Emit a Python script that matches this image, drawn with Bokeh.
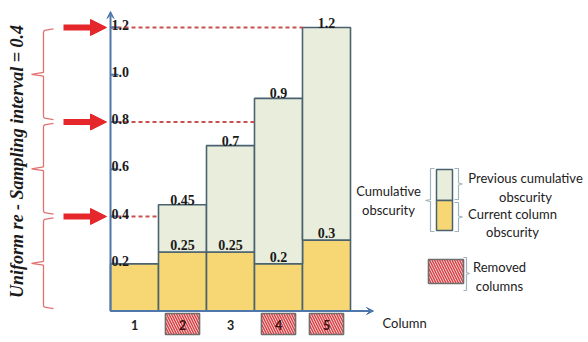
import math
from bokeh.plotting import figure
from bokeh.models import ColumnDataSource, Range1d, Arrow, NormalHead, VeeHead
from bokeh.core.properties import value
from bokeh.embed import file_html
from bokeh.resources import INLINE

# ---------------- data ----------------
columns = [1, 2, 3, 4, 5]
current_obscurity = [0.2, 0.25, 0.25, 0.2, 0.3]
cumulative_obscurity = [0.2, 0.45, 0.7, 0.9, 1.2]
removed_columns = [2, 4, 5]
y_ticks = [0.2, 0.4, 0.6, 0.8, 1.0, 1.2]
sampling_interval = 0.4
sample_levels = [0.4, 0.8, 1.2]
y_title = "Uniform re - Sampling interval = 0.4"
x_title = "Column"

# ---------------- layout helpers (pixel -> data) ----------------
X0_PX, COL_PX = 110.0, 48.0
Y0_PX, UNIT_PX = 310.5, 236.25


def px2x(px):
    return (px - X0_PX) / COL_PX


def px2y(py):
    return (Y0_PX - py) / UNIT_PX


W, H = 588, 342
p = figure(width=W, height=H, output_backend="svg", toolbar_location=None,
           x_range=Range1d(px2x(0), px2x(W)), y_range=Range1d(px2y(H), px2y(0)),
           x_axis_location=None, y_axis_location=None, min_border=0,
           outline_line_color=None, background_fill_color="white", border_fill_color="white")
p.xgrid.grid_line_color = None
p.ygrid.grid_line_color = None

YELLOW = "#F6D774"
GREEN = "#E9EDDC"
EDGE = "#4A6270"
AXIS = "#5077AC"
RED = "#E5262B"
DASH_RED = "#C8504E"
BRACE = "#E27272"
LEG_BR = "#9FB3BD"
HATCH_FILL = "#FDF0F0"
HATCH_RED = "#D9464A"
SERIF = value("Liberation Serif")
SANS = value("Lato")

# ---------------- bars ----------------
src = ColumnDataSource(dict(
    left=[c - 1 for c in columns], right=list(columns),
    cur=current_obscurity, cum=cumulative_obscurity,
    zero=[0] * len(columns)))
p.quad(left="left", right="right", bottom="zero", top="cur", source=src,
       fill_color=YELLOW, line_color=EDGE, line_width=1.6)
p.quad(left="left", right="right", bottom="cur", top="cum", source=src,
       fill_color=GREEN, line_color=EDGE, line_width=1.6)

# value labels
cx, cy, ct = [], [], []
ux, uy, ut = [], [], []
for c, cur, cum in zip(columns, current_obscurity, cumulative_obscurity):
    if cum > cur:
        cx.append(c - 0.5); cy.append(cum); ct.append(f"{cum:g}")
        ux.append(c - 0.5); uy.append(cur); ut.append(f"{cur:g}")
p.text(x=cx, y=cy, text=ct, text_font=SERIF, text_font_style="bold", text_font_size="14px",
       text_align="center", text_baseline="alphabetic", y_offset=-5, text_color="#1a1a1a")
p.text(x=ux, y=uy, text=ut, text_font=SERIF, text_font_style="bold", text_font_size="14px",
       text_align="center", text_baseline="alphabetic", y_offset=-7, text_color="#1a1a1a")

# ---------------- dashed sampling lines ----------------
for lvl in sample_levels:
    first = next(c for c, cum in zip(columns, cumulative_obscurity) if cum >= lvl - 1e-9)
    p.line([0, first - 1], [lvl, lvl], line_color=DASH_RED, line_width=1.8, line_dash="4 3")

# ---------------- axes ----------------
p.add_layout(Arrow(end=VeeHead(size=7, fill_color=AXIS, line_color=AXIS),
                   x_start=0, y_start=0, x_end=0, y_end=px2y(11),
                   line_color=AXIS, line_width=2))
p.add_layout(Arrow(end=VeeHead(size=7, fill_color=AXIS, line_color=AXIS),
                   x_start=0, y_start=0, x_end=px2x(373), y_end=0,
                   line_color=AXIS, line_width=2))
p.segment(x0=[0] * len(y_ticks), y0=y_ticks, x1=[px2x(118)] * len(y_ticks), y1=y_ticks,
          line_color=AXIS, line_width=2)
p.text(x=[px2x(111)] * len(y_ticks), y=y_ticks, text=[f"{t:.1f}" for t in y_ticks],
       text_font=SERIF, text_font_style="bold", text_font_size="14px",
       text_align="left", text_baseline="alphabetic", y_offset=-3, text_color="#1a1a1a")

# red arrows
for lvl in sample_levels:
    p.add_layout(Arrow(end=NormalHead(size=16, fill_color=RED, line_color=RED),
                       x_start=px2x(63), y_start=lvl, x_end=px2x(106), y_end=lvl,
                       line_color=RED, line_width=6))

# braces for each sampling interval
for hi in sample_levels:
    lo = hi - sampling_interval
    top, bot = hi - 0.006, lo + 0.01
    mid = (top + bot) / 2
    xs = [px2x(53), px2x(44), px2x(43), px2x(43), px2x(31), px2x(43), px2x(43), px2x(44), px2x(53)]
    ys = [top, top - 0.006, top - 0.012, mid + 0.008, mid, mid - 0.008, bot + 0.012, bot + 0.006, bot]
    p.line(xs, ys, line_color=BRACE, line_width=1.3)

p.text(x=[px2x(16)], y=[px2y(161)], text=[y_title], angle=math.pi / 2,
       text_font=SERIF, text_font_style="bold italic", text_font_size="18px",
       text_align="center", text_baseline="middle", text_color="#1a1a1a")

# ---------------- x labels ----------------
kept = [c for c in columns if c not in removed_columns]
p.text(x=[c - 0.5 for c in kept], y=[px2y(324)] * len(kept), text=[str(c) for c in kept],
       text_font=SANS, text_font_style="bold", text_font_size="12.5px",
       text_align="center", text_baseline="middle", text_color="#222222")
hw = 0.355
p.quad(left=[c - 0.5 - hw for c in removed_columns], right=[c - 0.5 + hw for c in removed_columns],
       top=[px2y(313)] * len(removed_columns), bottom=[px2y(334)] * len(removed_columns),
       fill_color=HATCH_FILL, hatch_pattern="left_diagonal_line", hatch_color=HATCH_RED,
       hatch_scale=5, hatch_weight=1.6, line_color="#6E6E6E", line_width=1.6)
p.text(x=[c - 0.5 for c in removed_columns], y=[px2y(324)] * len(removed_columns),
       text=[str(c) for c in removed_columns],
       text_font=SANS, text_font_style="bold", text_font_size="12.5px",
       text_align="center", text_baseline="middle", text_color="#3a1010")
p.text(x=[px2x(382)], y=[px2y(322)], text=[x_title], text_font=SANS, text_font_size="13px",
       text_align="left", text_baseline="middle", text_color="#222222")

# ---------------- legend ----------------
p.quad(left=[px2x(436)], right=[px2x(452)], bottom=[px2y(200)], top=[px2y(169)],
       fill_color=GREEN, line_color=EDGE, line_width=1.5)
p.quad(left=[px2x(436)], right=[px2x(452)], bottom=[px2y(230)], top=[px2y(200)],
       fill_color=YELLOW, line_color=EDGE, line_width=1.5)
# left bracket
p.line([px2x(434), px2x(430), px2x(430), px2x(425), px2x(430), px2x(430), px2x(434)],
       [px2y(168), px2y(168), px2y(199), px2y(200), px2y(201), px2y(231), px2y(231)],
       line_color=LEG_BR, line_width=1.2)
# right brackets
for t, b in [(168, 199), (202, 231)]:
    m = (t + b) / 2
    p.line([px2x(454), px2x(458), px2x(458), px2x(462), px2x(458), px2x(458), px2x(454)],
           [px2y(t), px2y(t), px2y(m - 1), px2y(m), px2y(m + 1), px2y(b), px2y(b)],
           line_color=LEG_BR, line_width=1.2)
p.quad(left=[px2x(428)], right=[px2x(463)], top=[px2y(259)], bottom=[px2y(283)],
       fill_color=HATCH_FILL, hatch_pattern="left_diagonal_line", hatch_color=HATCH_RED,
       hatch_scale=5, hatch_weight=1.6, line_color="#6E6E6E", line_width=1.6)
p.line([px2x(463), px2x(466), px2x(466), px2x(469), px2x(466), px2x(466), px2x(463)],
       [px2y(257), px2y(257), px2y(272), px2y(273), px2y(274), px2y(290), px2y(290)],
       line_color=LEG_BR, line_width=1.2)

leg_txt = [("Cumulative", 388, 190), ("obscurity", 388, 209),
           ("Previous cumulative", 525, 177), ("obscurity", 525, 196),
           ("Current column", 512, 213), ("obscurity", 512, 231),
           ("Removed", 499, 266), ("columns", 499, 285)]
p.text(x=[px2x(a) for _, a, _ in leg_txt], y=[px2y(b) for _, _, b in leg_txt],
       text=[t for t, _, _ in leg_txt], text_font=SANS, text_font_size="13px",
       text_align="center", text_baseline="middle", text_color="#222222")

open("out.html", "w").write(file_html(p, INLINE))
